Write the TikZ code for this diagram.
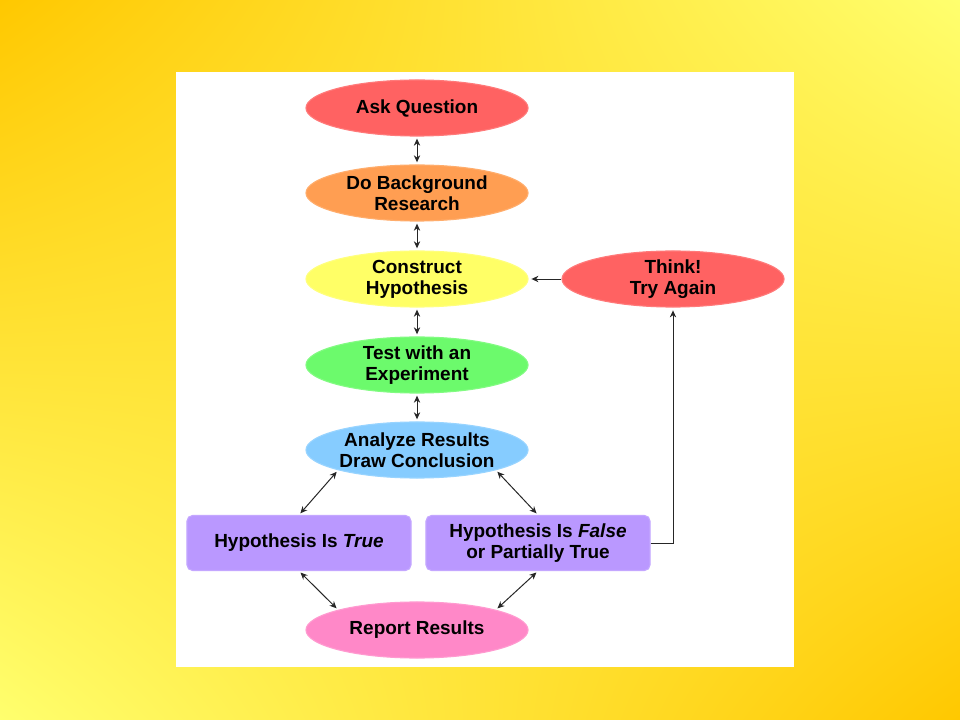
\documentclass[tikz,border=0pt]{standalone}
\usepackage{fontspec}
\setmainfont{Liberation Sans}
\usetikzlibrary{positioning}
\usetikzlibrary{arrows.meta}
\usetikzlibrary{shadings}
\usetikzlibrary{shapes.geometric}
\definecolor{askred}{RGB}{255,98,98}
\definecolor{bgorange}{RGB}{255,158,82}
\definecolor{hypyellow}{RGB}{255,255,102}
\definecolor{testgreen}{RGB}{108,250,108}
\definecolor{anblue}{RGB}{134,204,255}
\definecolor{boxpurple}{RGB}{186,152,255}
\definecolor{reppink}{RGB}{255,136,200}
\definecolor{deeporange}{RGB}{255,200,0}
\definecolor{paleyellow}{RGB}{255,255,110}

\begin{document}
\begin{tikzpicture}[x=0.025cm,y=-0.025cm]
			\tikzset{
				oval/.style={ellipse, draw=#1!85!white, line width=0.8pt, fill=#1,
					minimum width=5.55cm, minimum height=1.4cm, inner sep=0pt,
					align=center, font=\bfseries\fontsize{13.5}{15}\selectfont},
				stepbox/.style={rectangle, rounded corners=4pt, draw=boxpurple!85!white,
					line width=0.8pt, fill=boxpurple, minimum width=5.6cm,
					minimum height=1.375cm, inner sep=0pt, align=center,
					font=\bfseries\fontsize{13.5}{15}\selectfont},
				dbl/.style={{Stealth[length=5pt,width=4.5pt]}-{Stealth[length=5pt,width=4.5pt]},
					line width=0.7pt, black!85, shorten <=1.5pt, shorten >=1.5pt},
				sgl/.style={-{Stealth[length=5pt,width=4.5pt]}, line width=0.7pt,
					black!85, shorten >=2pt}
			}
			% Background
			\shade[upper left=deeporange, upper right=paleyellow,
				lower left=paleyellow, lower right=deeporange] (0,0) rectangle (960,720);
			\fill[white] (176,72) rectangle (794,667);

			% Main column
			\node[oval=askred] (ask) at (417,108) {Ask Question};
			\node[oval=bgorange] (bg) at (417,193) {Do Background\\Research};
			\node[oval=hypyellow] (hyp) at (417,279) {Construct\\Hypothesis};
			\node[oval=testgreen] (test) at (417,365) {Test with an\\Experiment};
			\node[oval=anblue] (an) at (417,450) {Analyze Results\\Draw Conclusion};

			% Outcomes
			\node[stepbox] (true) at (299,543) {Hypothesis Is \textit{True}};
			\node[stepbox] (false) at (538,543) {Hypothesis Is \textit{False}\\or Partially True};
			\node[oval=reppink] (rep) at (417,630) {Report Results};
			\node[oval=askred] (think) at (673,279) {Think!\\Try Again};

			% Connectors
			\draw[dbl] (ask) -- (bg);
			\draw[dbl] (bg) -- (hyp);
			\draw[dbl] (hyp) -- (test);
			\draw[dbl] (test) -- (an);
			\draw[dbl] (an.south west) -- (true.north);
			\draw[dbl] (an.south east) -- (false.north);
			\draw[dbl] (true.south) -- (rep.north west);
			\draw[dbl] (false.south) -- (rep.north east);
			\draw[sgl] (think) -- (hyp);
			\draw[sgl] (false.east) -| (think.south);
		\end{tikzpicture}
\end{document}
